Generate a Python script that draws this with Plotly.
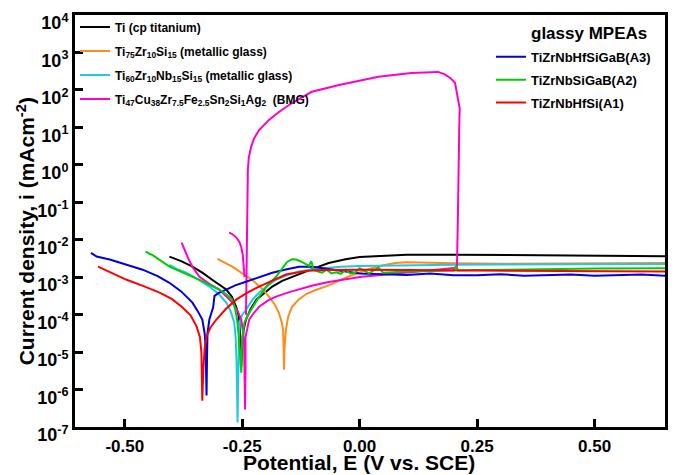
import numpy as np
import plotly.graph_objects as go

# ---------------- data (E in V vs SCE, log10 of current density in mA/cm^2) ----------------
ti_E = [-0.405, -0.38, -0.356, -0.335, -0.314, -0.295, -0.284, -0.272, -0.263, -0.258, -0.256, -0.254,
        -0.252, -0.250, -0.247, -0.242, -0.232, -0.22, -0.2, -0.186, -0.165, -0.144, -0.12, -0.10,
        -0.066, -0.03, 0.0, 0.05, 0.1, 0.2, 0.3, 0.4, 0.5, 0.65]
ti_logi = [-2.45, -2.57, -2.72, -2.88, -3.07, -3.22, -3.33, -3.52, -3.79, -4.0, -4.21, -4.7,
           -5.39, -4.8, -4.4, -4.13, -3.85, -3.6, -3.38, -3.25, -3.1, -2.99, -2.88, -2.78,
           -2.62, -2.52, -2.46, -2.42, -2.40, -2.40, -2.41, -2.42, -2.43, -2.44]

mg1_E = [-0.303, -0.29, -0.271, -0.25, -0.229, -0.21, -0.193, -0.18, -0.172, -0.166, -0.163, -0.162,
         -0.161, -0.160, -0.159, -0.157, -0.152, -0.144, -0.13, -0.114, -0.095, -0.066, -0.03, 0.0,
         0.02, 0.05, 0.076, 0.1, 0.15, 0.2, 0.3, 0.4, 0.5, 0.65]
mg1_logi = [-2.51, -2.6, -2.72, -2.9, -3.07, -3.28, -3.52, -3.75, -3.95, -4.2, -4.4, -4.8,
            -5.47, -4.9, -4.6, -4.4, -4.05, -3.79, -3.6, -3.45, -3.35, -3.22, -3.01, -2.88,
            -2.78, -2.68, -2.62, -2.6, -2.62, -2.63, -2.64, -2.63, -2.63, -2.62]

mg2_E = [-0.405, -0.39, -0.369, -0.345, -0.32, -0.30, -0.284, -0.275, -0.267, -0.264, -0.262, -0.261,
         -0.260, -0.259, -0.258, -0.256, -0.250, -0.242, -0.228, -0.214, -0.195, -0.178, -0.155, -0.129,
         -0.10, -0.072, -0.04, 0.0, 0.1, 0.2, 0.3, 0.4, 0.5, 0.65]
mg2_logi = [-2.67, -2.78, -2.88, -3.05, -3.25, -3.45, -3.68, -3.9, -4.21, -4.6, -5.3, -6.0,
            -6.88, -6.0, -5.0, -4.21, -4.0, -3.87, -3.6, -3.41, -3.22, -3.07, -2.95, -2.85,
            -2.79, -2.75, -2.72, -2.7, -2.68, -2.67, -2.66, -2.66, -2.65, -2.65]

bmg_E = [-0.379, -0.372, -0.365, -0.355, -0.341, -0.32, -0.299, -0.285, -0.271, -0.26, -0.252, -0.248,
         -0.246, -0.245, -0.244, -0.243, -0.243, -0.238, -0.235, -0.225, -0.214, -0.195, -0.178, -0.15,
         -0.123, -0.10, -0.066, -0.03, 0.004, 0.04, 0.076, 0.11, 0.146, 0.18, 0.207, 0.209,
         0.21, 0.212, 0.213, 0.21, 0.203, 0.193, 0.18, 0.167, 0.14, 0.11, 0.04, -0.044,
         -0.102, -0.144, -0.172, -0.193, -0.214, -0.225, -0.231, -0.236, -0.238, -0.239, -0.240, -0.241,
         -0.242]
bmg_logi = [-2.08, -2.3, -2.5, -2.75, -2.99, -3.18, -3.33, -3.5, -3.68, -3.9, -4.13, -4.5,
            -4.85, -5.6, -6.53, -5.5, -4.6, -4.3, -4.13, -3.95, -3.79, -3.62, -3.52, -3.4,
            -3.3, -3.22, -3.13, -3.05, -2.99, -2.95, -2.9, -2.86, -2.82, -2.78, -2.75, -1.5,
            0.0, 1.0, 1.5, 1.73, 2.19, 2.32, 2.42, 2.48, 2.47, 2.45, 2.35, 2.13,
            1.95, 1.65, 1.41, 1.2, 0.93, 0.7, 0.48, 0.2, -0.13, -1.0, -2.0, -3.0,
            -4.0]
bmg_rev_E = [-0.278, -0.27, -0.262, -0.256, -0.252, -0.249, -0.247, -0.245]
bmg_rev_logi = [-1.81, -1.86, -1.95, -2.06, -2.2, -2.4, -2.7, -3.0]

a3_E = [-0.572, -0.56, -0.532, -0.50, -0.462, -0.43, -0.405, -0.38, -0.356, -0.345, -0.335, -0.330,
        -0.328, -0.327, -0.326, -0.325, -0.324, -0.320, -0.316, -0.312, -0.309, -0.300, -0.284, -0.265,
        -0.242, -0.215, -0.186, -0.155, -0.129, -0.10, -0.07, -0.03, 0.0, 0.05, 0.1, 0.15, 0.2,
        0.25, 0.3, 0.35, 0.4, 0.45, 0.5, 0.55, 0.6, 0.65]
a3_logi = [-2.35, -2.45, -2.53, -2.66, -2.8, -2.97, -3.15, -3.38, -3.68, -3.9, -4.13, -4.5,
           -4.85, -5.5, -6.16, -5.2, -4.5, -4.13, -3.95, -3.81, -3.5, -3.42, -3.33, -3.22,
           -3.12, -3.0, -2.88, -2.79, -2.72, -2.72, -2.78, -2.85, -2.9, -2.92, -2.94, -2.9, -2.95,
           -2.95, -2.92, -2.96, -2.95, -2.93, -2.96, -2.95, -2.93, -2.96]

a2_E = [-0.456, -0.44, -0.405, -0.37, -0.341, -0.32, -0.299, -0.285, -0.271, -0.265, -0.261, -0.258,
        -0.256, -0.254, -0.252, -0.251, -0.250, -0.245, -0.235, -0.214, -0.195, -0.178, -0.165, -0.155,
        -0.144, -0.135, -0.125, -0.115, -0.108, -0.103, -0.098, -0.09, -0.08, -0.07, -0.06, -0.05,
        -0.04, -0.03, -0.02, -0.01, 0.0, 0.02, 0.04, 0.05, 0.06, 0.08, 0.1, 0.15,
        0.2, 0.205, 0.21, 0.25, 0.3, 0.4, 0.5, 0.65]
a2_logi = [-2.32, -2.42, -2.72, -2.9, -3.07, -3.2, -3.33, -3.45, -3.6, -3.85, -4.13, -4.5,
           -4.85, -5.2, -5.55, -5.0, -4.59, -4.2, -3.95, -3.52, -3.2, -2.99, -2.75, -2.6,
           -2.52, -2.53, -2.58, -2.65, -2.7, -2.57, -2.8, -2.84, -2.88, -2.8, -2.9, -2.87,
           -2.91, -2.8, -2.9, -2.88, -2.76, -2.9, -2.74, -2.88, -2.87, -2.86, -2.85, -2.84,
           -2.82, -2.7, -2.82, -2.81, -2.8, -2.79, -2.77, -2.76]

a1_E = [-0.557, -0.54, -0.52, -0.496, -0.46, -0.426, -0.40, -0.377, -0.36, -0.347, -0.340, -0.337,
        -0.336, -0.335, -0.333, -0.330, -0.326, -0.318, -0.305, -0.285, -0.263, -0.24, -0.214, -0.185,
        -0.157, -0.13, -0.108, -0.08, -0.05, 0.0, 0.1, 0.2, 0.3, 0.4, 0.5, 0.65]
a1_logi = [-2.72, -2.82, -2.93, -3.07, -3.24, -3.41, -3.58, -3.81, -4.02, -4.32, -4.6, -5.0,
           -5.6, -6.3, -5.5, -4.9, -4.59, -4.35, -4.13, -3.85, -3.6, -3.42, -3.25, -3.08,
           -2.93, -2.87, -2.83, -2.81, -2.80, -2.80, -2.81, -2.82, -2.83, -2.84, -2.85, -2.85]

x_ticks = [-0.50, -0.25, 0.00, 0.25, 0.50]
x_ticklabels = ["-0.50", "-0.25", "0.00", "0.25", "0.50"]
y_exponents = [4, 3, 2, 1, 0, -1, -2, -3, -4, -5, -6, -7]

# ---------------- figure ----------------
FONT = "Arial, 'Liberation Sans', sans-serif"


def cur(logs):
    return np.power(10.0, np.array(logs))


fig = go.Figure()

series1 = [
    (ti_E, ti_logi, "#000000", "Ti (cp titanium)"),
    (mg1_E, mg1_logi, "#ff8c1a", "Ti<sub>75</sub>Zr<sub>10</sub>Si<sub>15</sub> (metallic glass)"),
    (mg2_E, mg2_logi, "#1ec8e6",
     "Ti<sub>60</sub>Zr<sub>10</sub>Nb<sub>15</sub>Si<sub>15</sub> (metallic glass)"),
    (bmg_E, bmg_logi, "#ff00cc",
     "Ti<sub>47</sub>Cu<sub>38</sub>Zr<sub>7.5</sub>Fe<sub>2.5</sub>Sn<sub>2</sub>Si<sub>1</sub>Ag<sub>2</sub>  (BMG)"),
]
for k, (xs, ys, col, name) in enumerate(series1):
    fig.add_trace(go.Scatter(x=xs, y=cur(ys), mode="lines", name=name, legendgroup="g1_%d" % k,
                             line=dict(color=col, width=2), legend="legend"))

fig.add_trace(go.Scatter(x=bmg_rev_E, y=cur(bmg_rev_logi), mode="lines", showlegend=False,
                         line=dict(color="#ff00cc", width=2)))

series2 = [
    (a3_E, a3_logi, "#0000dd", "TiZrNbHfSiGaB(A3)"),
    (a2_E, a2_logi, "#00cc00", "TiZrNbSiGaB(A2)"),
    (a1_E, a1_logi, "#ff0000", "TiZrNbHfSi(A1)"),
]
for k, (xs, ys, col, name) in enumerate(series2):
    fig.add_trace(go.Scatter(x=xs, y=cur(ys), mode="lines", name=name, legendgroup="g2_%d" % k,
                             line=dict(color=col, width=2), legend="legend2"))

fig.update_layout(
    width=676, height=475,
    margin=dict(l=75, r=8, t=15, b=48),
    paper_bgcolor="white", plot_bgcolor="white",
    font=dict(family=FONT, color="black"),
    legend=dict(x=0.0, y=1.006, xanchor="left", yanchor="top", bgcolor="rgba(0,0,0,0)",
                font=dict(size=12, weight="bold", family=FONT), tracegroupgap=5,
                itemwidth=30),
    legend2=dict(x=0.705, y=0.935, xanchor="left", yanchor="top", bgcolor="rgba(0,0,0,0)",
                 font=dict(size=13, weight="bold", family=FONT), tracegroupgap=3, itemwidth=30),
    annotations=[
        dict(text="glassy MPEAs", xref="paper", yref="paper", x=0.973, y=0.956,
             xanchor="right", yanchor="middle", showarrow=False,
             font=dict(size=17, weight="bold", family=FONT)),
        dict(text="Potential, E (V vs. SCE)", xref="paper", yref="paper", x=0.481, y=-0.085,
             xanchor="center", yanchor="middle", showarrow=False,
             font=dict(size=21, weight="bold", family=FONT)),
        dict(text="Current density, i (mAcm<sup>-2</sup>)", xref="paper", yref="paper",
             x=-0.084, y=0.476, xanchor="center", yanchor="middle", showarrow=False,
             textangle=-90, font=dict(size=21, weight="bold", family=FONT)),
    ],
)

fig.update_xaxes(
    range=[-0.606, 0.65], tickvals=x_ticks, ticktext=x_ticklabels,
    ticks="inside", ticklen=8, tickwidth=3, tickcolor="black",
    showline=True, linecolor="black", linewidth=3, mirror=True,
    showgrid=False, zeroline=False, ticklabelstandoff=2,
    tickfont=dict(size=17, weight="bold", family=FONT),
)
fig.update_yaxes(
    type="log", range=[-7, 4], tickvals=[10.0 ** e for e in y_exponents],
    ticktext=["10<sup>%d</sup>" % e for e in y_exponents],
    ticks="inside", ticklen=8, tickwidth=3, tickcolor="black",
    showline=True, linecolor="black", linewidth=3, mirror=True,
    showgrid=False, zeroline=False, ticklabeloverflow="allow", ticklabelshift=8,
    tickfont=dict(size=18, weight="bold", family=FONT),
)

# remove the browser's default 8px body margin so the 676x475 figure fills the window
fig.write_html("out.html", config={"displayModeBar": False},
               post_script="document.body.style.margin='0px';")
